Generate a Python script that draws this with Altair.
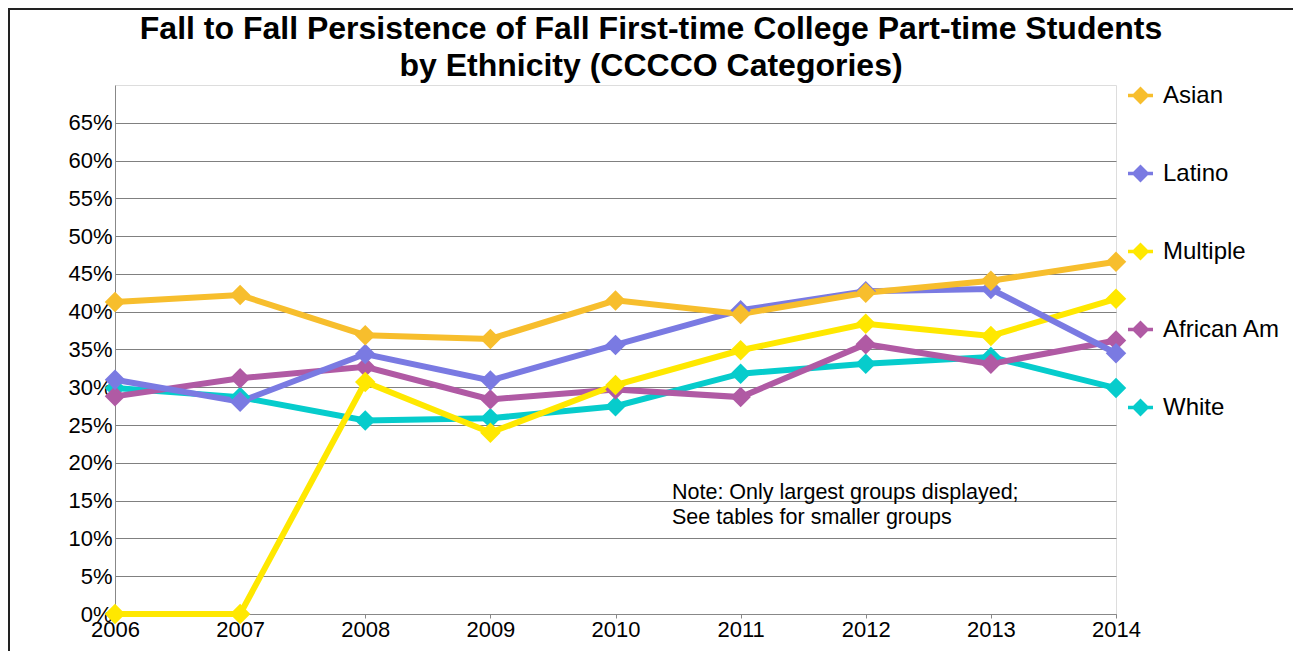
import altair as alt
import pandas as pd

years = [2006, 2007, 2008, 2009, 2010, 2011, 2012, 2013, 2014]
legend_order = ["Asian", "Latino", "Multiple", "African Am", "White"]
colors = ["#F7BE2D", "#7A7AE2", "#FFE800", "#B05AA4", "#06CCCC"]

asian = [0.413, 0.422, 0.369, 0.364, 0.415, 0.397, 0.425, 0.441, 0.466]
latino = [0.310, 0.281, 0.344, 0.309, 0.356, 0.402, 0.427, 0.430, 0.345]
multiple = [0.0, 0.0, 0.307, 0.240, 0.303, 0.349, 0.384, 0.368, 0.417]
african_am = [0.288, 0.312, 0.327, 0.284, 0.297, 0.287, 0.357, 0.331, 0.362]
white = [0.299, 0.287, 0.256, 0.259, 0.275, 0.318, 0.331, 0.340, 0.299]

y_ticks = [i * 0.05 for i in range(14)]

title_lines = ["Fall to Fall Persistence of Fall First-time College Part-time Students",
               "by Ethnicity (CCCCO Categories)"]
note_lines = ["Note: Only largest groups displayed;", "See tables for smaller groups"]

# drawing order (bottom -> top): White, African Am, Multiple, Latino, Asian
series = {"White": white, "African Am": african_am, "Multiple": multiple,
          "Latino": latino, "Asian": asian}
rows = []
for name, vals in series.items():
    for yr, v in zip(years, vals):
        rows.append({"Year": yr, "Group": name, "Rate": v})
df = pd.DataFrame(rows)

FONT = "Liberation Sans"
legend_path = "M-1,0L1,0M0,-0.52L0.52,0L0,0.52L-0.52,0Z"

color = alt.Color(
    "Group:N",
    scale=alt.Scale(domain=legend_order, range=colors),
    legend=alt.Legend(
        title=None, orient="none", legendX=1011, legendY=-4,
        direction="vertical", symbolType=legend_path, symbolSize=625,
        symbolStrokeWidth=3.5, labelFontSize=24, labelFont=FONT,
        labelColor="black", labelOffset=8, rowPadding=50, padding=0,
    ),
)

x = alt.X("Year:Q", scale=alt.Scale(domain=[2006, 2014], nice=False),
          axis=alt.Axis(values=years, format="d", title=None, grid=False,
                        labelFontSize=22, labelFont=FONT, labelColor="black",
                        tickSize=4, tickColor="#888", domainColor="#888",
                        labelPadding=1, labelFlush=False))
y = alt.Y("Rate:Q", scale=alt.Scale(domain=[0, 0.70], nice=False),
          axis=alt.Axis(values=y_ticks, format=".0%", title=None, grid=True,
                        gridColor="#808080", gridWidth=1.2, ticks=False,
                        labelFontSize=22, labelFont=FONT, labelColor="black",
                        labelPadding=3, domainColor="#888", labelFlush=False))

base = alt.Chart(df)
lines = base.mark_line(strokeWidth=6).encode(x=x, y=y, color=color, detail="Group:N")
points = base.mark_point(shape="diamond", size=420, filled=True, opacity=1).encode(
    x=x, y=y, color=color)

one = pd.DataFrame({"t": [0]})

title = alt.Chart(one).mark_text(
    text=title_lines, align="center", baseline="alphabetic", fontSize=32,
    font=FONT, fontWeight="bold", lineHeight=37, color="black"
).encode(x=alt.value(536), y=alt.value(-46))

note = alt.Chart(one).mark_text(
    text=note_lines, align="left", baseline="alphabetic", fontSize=21.5,
    font=FONT, lineHeight=25, color="black"
).encode(x=alt.value(557), y=alt.value(414))

frame_top = alt.Chart(one).mark_rule(stroke="#222", strokeWidth=2).encode(
    x=alt.value(-107), x2=alt.value(1200), y=alt.value(-76))
frame_left = alt.Chart(one).mark_rule(stroke="#222", strokeWidth=2).encode(
    x=alt.value(-106), y=alt.value(-77), y2=alt.value(600))

chart = alt.layer(frame_top, frame_left, lines, points, note, title).properties(
    width=1001, height=529,
    autosize=alt.AutoSizeParams(type="none"),
    padding={"left": 107, "top": 77, "right": 177, "bottom": 37},
).configure_view(stroke="#888", strokeWidth=1.2).configure(background="white")

chart.save("out.html", embed_options={"renderer": "svg", "actions": False})
